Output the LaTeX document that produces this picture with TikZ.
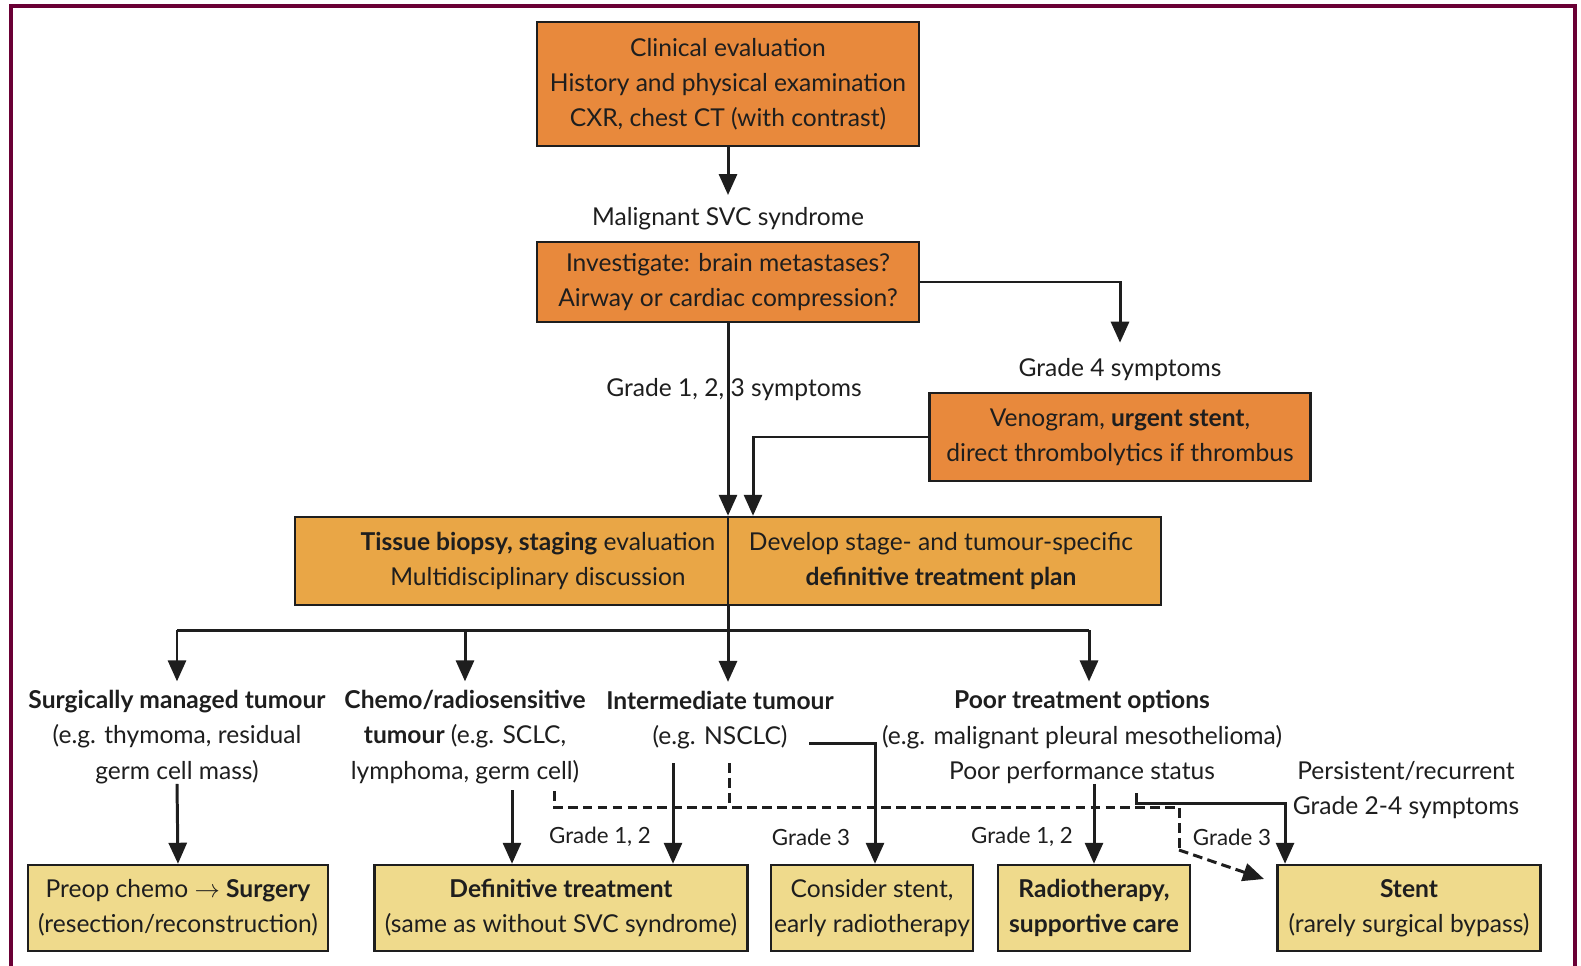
\documentclass[tikz,border=0pt]{standalone}
\usepackage{fontspec}
\setmainfont{Lato}
\usetikzlibrary{arrows.meta}

\definecolor{ink}{HTML}{1E1E1E}
\definecolor{framecol}{HTML}{6A0035}
\definecolor{topbox}{HTML}{E8893C}
\definecolor{midbox}{HTML}{E9A646}
\definecolor{endbox}{HTML}{EFDA8C}
\newcommand{\pxu}{0.02cm}

\tikzset{
  txt/.style={font=\fontsize{14}{20}\selectfont, text=ink, align=center, inner sep=0pt},
  small/.style={txt, font=\fontsize{12.7}{18}\selectfont},
  flowbox/.style={txt, draw=ink, line width=1.4pt},
  link/.style={draw=ink, line width=1.7pt},
  arr/.style={link, -{Triangle[width=0.36cm,length=0.42cm]}},
  dashlink/.style={link, dash pattern=on 5.5pt off 3pt}
}

\begin{document}
\begin{tikzpicture}[x=0.02cm,y=-0.02cm]
\useasboundingbox[fill=white] (0,0) rectangle (1581,966);
\draw[framecol, line width=2.2pt] (11,966) -- (11,6) -- (1575,6) -- (1575,966);

% top part
\node[flowbox, fill=topbox, minimum width=382*\pxu, minimum height=124*\pxu] (clinical) at (728,84)
  {Clinical evaluation\\History and physical examination\\CXR, chest CT (with contrast)};
\node[txt] (svc) at (728,219) {Malignant SVC syndrome};
\node[flowbox, fill=topbox, minimum width=382*\pxu, minimum height=80*\pxu] (investigate) at (728,282)
  {Investigate: brain metastases?\\Airway or cardiac compression?};
\node[txt] (g4) at (1120,370) {Grade 4 symptoms};
\node[flowbox, fill=topbox, minimum width=381*\pxu, minimum height=88*\pxu] (venogram) at (1120,437)
  {Venogram, \textbf{urgent stent},\\direct thrombolytics if thrombus};
\node[txt] (g123) at (734,390) {Grade 1, 2, 3 symptoms};

% tissue / plan
\node[flowbox, fill=midbox, minimum width=866*\pxu, minimum height=88*\pxu] (tissue) at (728,561) {};
\node[txt] (tissueL) at (538,561) {\textbf{Tissue biopsy, staging} evaluation\\Multidisciplinary discussion};
\node[txt] (tissueR) at (941,561) {Develop stage- and tumour-specific\\\textbf{definitive treatment plan}};
\draw[ink, line width=0.7pt] (tissue.north) -- (tissue.south);

\draw[arr, shorten >=7pt] (clinical.south) -- (svc.north);
\draw[arr] (investigate.south) -- (tissue.north);
\draw[arr, shorten >=9pt] (investigate.east) -| (g4.north);
\draw[arr] (venogram.west) -| ([xshift=0.5cm]tissue.north);

% tumour groups
\node[txt] (surg) at (177,737) {\textbf{Surgically managed tumour}\\(e.g. thymoma, residual\\germ cell mass)};
\node[txt] (chemo) at (465,737) {\textbf{Chemo/radiosensitive}\\\textbf{tumour} (e.g. SCLC,\\lymphoma, germ cell)};
\node[txt] (inter) at (720,720) {\textbf{Intermediate tumour}\\(e.g. NSCLC)};
\node[txt] (poor) at (1082,737) {\textbf{Poor treatment options}\\(e.g. malignant pleural mesothelioma)\\Poor performance status};
\node[txt] (persist) at (1406,790) {Persistent/recurrent\\Grade 2-4 symptoms};

\coordinate (bus) at (728,630);
\draw[link] (tissue.south) -- (bus);
\draw[link] (bus -| surg) -- (1089,630);
\foreach \n in {surg,chemo}
  \draw[arr, shorten >=5pt] (bus -| \n) -- (\n.north);
\draw[arr, shorten >=5pt] (1089,630) -- (1089,630 |- poor.north);
\draw[arr, shorten >=5pt] (bus) -- (bus |- inter.north);

% end boxes
\node[flowbox, fill=endbox, minimum width=300*\pxu, minimum height=86*\pxu] (preop) at (178,908)
  {Preop chemo $\rightarrow$ \textbf{Surgery}\\(resection/reconstruction)};
\node[flowbox, fill=endbox, minimum width=373*\pxu, minimum height=86*\pxu] (defin) at (561,908)
  {\textbf{Definitive treatment}\\(same as without SVC syndrome)};
\node[flowbox, fill=endbox, minimum width=202*\pxu, minimum height=86*\pxu] (consider) at (872,908)
  {Consider stent,\\early radiotherapy};
\node[flowbox, fill=endbox, minimum width=192*\pxu, minimum height=86*\pxu] (radio) at (1094,908)
  {\textbf{Radiotherapy,}\\\textbf{supportive care}};
\node[flowbox, fill=endbox, minimum width=263*\pxu, minimum height=86*\pxu] (stent) at (1409,908)
  {\textbf{Stent}\\(rarely surgical bypass)};

\node[small] (g12a) at (600,837) {Grade 1, 2};
\node[small] (g3a) at (811,837) {Grade 3};
\node[small] (g12b) at (1022,837) {Grade 1, 2};
\node[small] (g3b) at (1232,837) {Grade 3};

% dashed route
\coordinate (chemodash) at (554,791);
\coordinate (interdash) at (729,763);
\coordinate (dashbus) at (554,807);
\coordinate (dashturn) at (1179,807);
\coordinate (dashdown) at (1179,850);
\coordinate (dashtip) at (1264,879);
\draw[dashlink] (chemodash) -- (dashbus) -- (dashturn) -- (dashdown);
\draw[dashlink, -{Triangle[width=0.36cm,length=0.42cm]}] (dashdown) -- (dashtip);
\draw[dashlink] (interdash) -- (interdash |- dashbus);

% solid routes
\draw[arr] (surg.south) -- (preop.north);
\coordinate (chemoout) at (512,790);
\draw[arr] (chemoout) -- (chemoout |- defin.north);
\coordinate (interout) at (673,763);
\draw[arr] (interout) -- (interout |- defin.north);
\coordinate (nsclc) at (809,743);
\draw[arr] (nsclc) -| ([xshift=0.06cm]consider.north);
\draw[arr] (poor.south -| radio.north) -- (radio.north);
\coordinate (poorout) at (1136,793);
\draw[arr] (poorout) -- ++(0,10) -| ([xshift=-2.48cm]stent.north);
\end{tikzpicture}
\end{document}
